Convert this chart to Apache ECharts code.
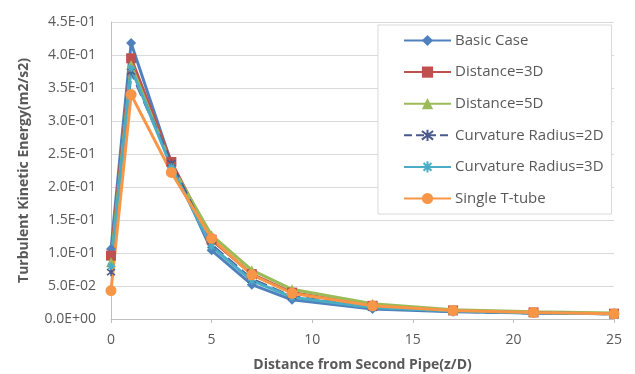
<!DOCTYPE html>
<html><head><meta charset="utf-8">
<script src="https://cdn.jsdelivr.net/npm/echarts@6/dist/echarts.min.js"></script>
<style>html,body{margin:0;padding:0;background:#fff}#c{width:635px;height:374px}</style>
</head><body><div id="c"></div>
<script>
var xValues = [0, 1, 3, 5, 7, 9, 13, 17, 21, 25];
var seriesNames = ["Basic Case", "Distance=3D", "Distance=5D", "Curvature Radius=2D", "Curvature Radius=3D", "Single T-tube"];
var basicCase   = [0.106, 0.418, 0.236, 0.104, 0.052, 0.029, 0.015, 0.011, 0.009, 0.008];
var distance3D  = [0.096, 0.395, 0.238, 0.120, 0.068, 0.040, 0.020, 0.013, 0.010, 0.008];
var distance5D  = [0.086, 0.385, 0.233, 0.127, 0.074, 0.045, 0.023, 0.014, 0.011, 0.009];
var curvature2D = [0.071, 0.375, 0.236, 0.112, 0.060, 0.034, 0.017, 0.012, 0.009, 0.008];
var curvature3D = [0.080, 0.380, 0.230, 0.110, 0.058, 0.033, 0.017, 0.012, 0.009, 0.008];
var singleTube  = [0.043, 0.340, 0.222, 0.122, 0.067, 0.039, 0.020, 0.013, 0.010, 0.008];
var yTicks = [0, 0.05, 0.1, 0.15, 0.2, 0.25, 0.3, 0.35, 0.4, 0.45];
var xTicks = [0, 5, 10, 15, 20, 25];

var allValues = [basicCase, distance3D, distance5D, curvature2D, curvature3D, singleTube];
var colors = ["#4F81BD", "#C0504D", "#9BBB59", "#4B5A8C", "#4BACC6", "#F79646"];
var symbols = ["diamond", "rect", "triangle", "path://M-1,-1L1,1M1,-1L-1,1M0,-1.3L0,1.3", "path://M0,-1L0,1M-1,0L1,0M-0.7,-0.7L0.7,0.7M0.7,-0.7L-0.7,0.7", "circle"];
var sizes = [10, 10, 10, 8, 8, 11];

function fmt(v){
  var s = v.toExponential(1).toUpperCase();
  return s.replace(/E([+-])(\d)$/, "E$10$2");
}

var series = seriesNames.map(function(n, i){
  var isCross = i === 3 || i === 4;
  return {
    name: n, type: 'line',
    data: xValues.map(function(x, j){ return [x, allValues[i][j]]; }),
    symbol: symbols[i], symbolSize: sizes[i],
    lineStyle: {color: colors[i], width: 3, type: i === 3 ? 'dashed' : 'solid'},
    itemStyle: isCross ? {color: 'transparent', borderColor: colors[i], borderWidth: 1.5} : {color: colors[i]},
    emphasis: {disabled: true}, animation: false
  };
});

var chart = echarts.init(document.getElementById('c'), null, {renderer: 'canvas'});
chart.setOption({
  backgroundColor: '#fff',
  textStyle: {fontFamily: 'Open Sans'},
  grid: {left: 111, right: 21, top: 22, bottom: 55, containLabel: false, outerBoundsMode: 'none'},
  xAxis: {
    type: 'value', min: 0, max: 25, interval: 5,
    name: 'Distance from Second Pipe(z/D)', nameLocation: 'middle', nameGap: 39,
    nameTextStyle: {fontFamily: 'Open Sans', fontWeight: 'bold', fontSize: 14, color: '#595959'},
    axisLine: {show: true, lineStyle: {color: '#BFBFBF'}},
    axisTick: {show: true, length: 4, lineStyle: {color: '#BFBFBF'}},
    axisLabel: {color: '#595959', fontSize: 14, margin: 14, formatter: function(v){ return xTicks.indexOf(v) >= 0 ? String(v) : ''; }},
    splitLine: {show: false}
  },
  yAxis: {
    type: 'value', min: 0, max: 0.45, interval: 0.05,
    name: 'Turbulent Kinetic Energy(m2/s2)', nameLocation: 'middle', nameGap: 80, nameRotate: 90,
    nameTextStyle: {fontFamily: 'Open Sans', fontWeight: 'bold', fontSize: 14, color: '#595959'},
    axisLine: {show: true, lineStyle: {color: '#BFBFBF'}},
    axisTick: {show: false},
    axisLabel: {color: '#595959', fontSize: 14, margin: 15, formatter: function(v){ return fmt(yTicks.reduce(function(a,b){return Math.abs(b-v)<Math.abs(a-v)?b:a;})); }},
    splitLine: {show: true, lineStyle: {color: '#D9D9D9', width: 1}}
  },
  legend: {
    orient: 'vertical', left: 378, top: 25,
    padding: [8, 8, 8, 25], itemGap: 16.6, itemWidth: 47, itemHeight: 14,
    backgroundColor: '#fff', borderColor: '#D9D9D9', borderWidth: 1,
    textStyle: {fontFamily: 'Open Sans', fontSize: 15, lineHeight: 14, color: '#595959', padding: [0,0,0,-1]},
    data: seriesNames
  },
  series: series
});
</script></body></html>
